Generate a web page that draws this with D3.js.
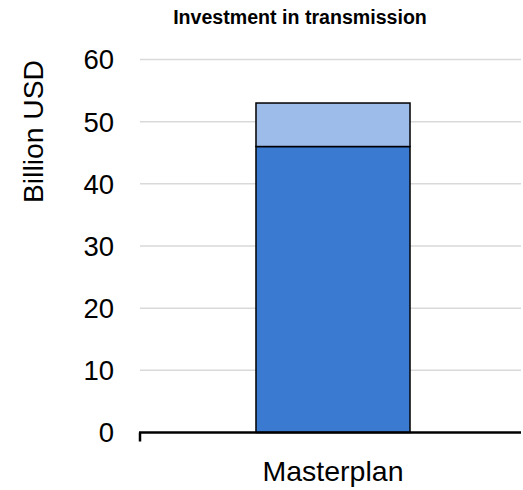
<!DOCTYPE html>
<html>
<head>
<meta charset="utf-8">
<script src="https://cdn.jsdelivr.net/npm/d3@7"></script>
<style>
  body { margin: 0; background: #fff; }
  svg { display: block; font-family: "Liberation Sans", Arial, sans-serif; }
</style>
</head>
<body>
<svg id="chart" width="523" height="490"></svg>
<script>
// Stacked investment figures (billion USD)
const categories = ["Masterplan"];
const baseValues = [46];
const extraValues = [7];
const yTicks = [0, 10, 20, 30, 40, 50, 60];

const svg = d3.select("#chart");
const plotLeft = 140, plotRight = 521;

const x = d3.scaleBand().domain(categories).range([plotLeft, 526]).paddingInner(0).paddingOuter(0.753);
const y = d3.scaleLinear().domain([0, 60]).range([432.5, 59.5]);

// gridlines
svg.append("g").selectAll("line").data(yTicks.filter(d => d > 0)).join("line")
  .attr("x1", plotLeft).attr("x2", plotRight)
  .attr("y1", d => y(d)).attr("y2", d => y(d))
  .attr("stroke", "#d9d9d9").attr("stroke-width", 1.5);

// y tick labels
svg.append("g").selectAll("text").data(yTicks).join("text")
  .attr("x", 114).attr("y", d => y(d)).attr("dy", "0.36em")
  .attr("text-anchor", "end").attr("font-size", 27.5).attr("fill", "#000")
  .text(d => d);

// stacked bars
const stacks = categories.map((c, i) => ({ c, base: baseValues[i], extra: extraValues[i] }));
const bw = x.bandwidth();
svg.append("g").selectAll("rect.base").data(stacks).join("rect")
  .attr("x", d => x(d.c)).attr("width", bw)
  .attr("y", d => y(d.base)).attr("height", d => y(0) - y(d.base))
  .attr("fill", "#3b7ad1").attr("stroke", "#000").attr("stroke-width", 1.5);
svg.append("g").selectAll("rect.extra").data(stacks).join("rect")
  .attr("x", d => x(d.c)).attr("width", bw)
  .attr("y", d => y(d.base + d.extra)).attr("height", d => y(d.base) - y(d.base + d.extra))
  .attr("fill", "#9dbce9").attr("stroke", "#000").attr("stroke-width", 1.5);

// category axis
const xAxis = svg.append("g").attr("transform", `translate(0,${y(0)})`);
xAxis.append("line").attr("x1", plotLeft - 1).attr("x2", plotRight)
  .attr("stroke", "#000").attr("stroke-width", 2.5);
xAxis.append("line").attr("x1", plotLeft).attr("x2", plotLeft)
  .attr("y1", 0).attr("y2", 9).attr("stroke", "#000").attr("stroke-width", 2.5);
xAxis.selectAll("text").data(categories).join("text")
  .attr("x", d => x(d) + bw / 2).attr("y", 48.5)
  .attr("text-anchor", "middle").attr("font-size", 28.5).text(d => d);

// title
svg.append("text").attr("x", 300).attr("y", 24).attr("text-anchor", "middle")
  .attr("font-size", 19.6).attr("font-weight", "bold").text("Investment in transmission");

// y axis label
svg.append("text").attr("transform", `translate(43,131.5) rotate(-90)`)
  .attr("text-anchor", "middle").attr("font-size", 28.3).text("Billion USD");
</script>
</body>
</html>
